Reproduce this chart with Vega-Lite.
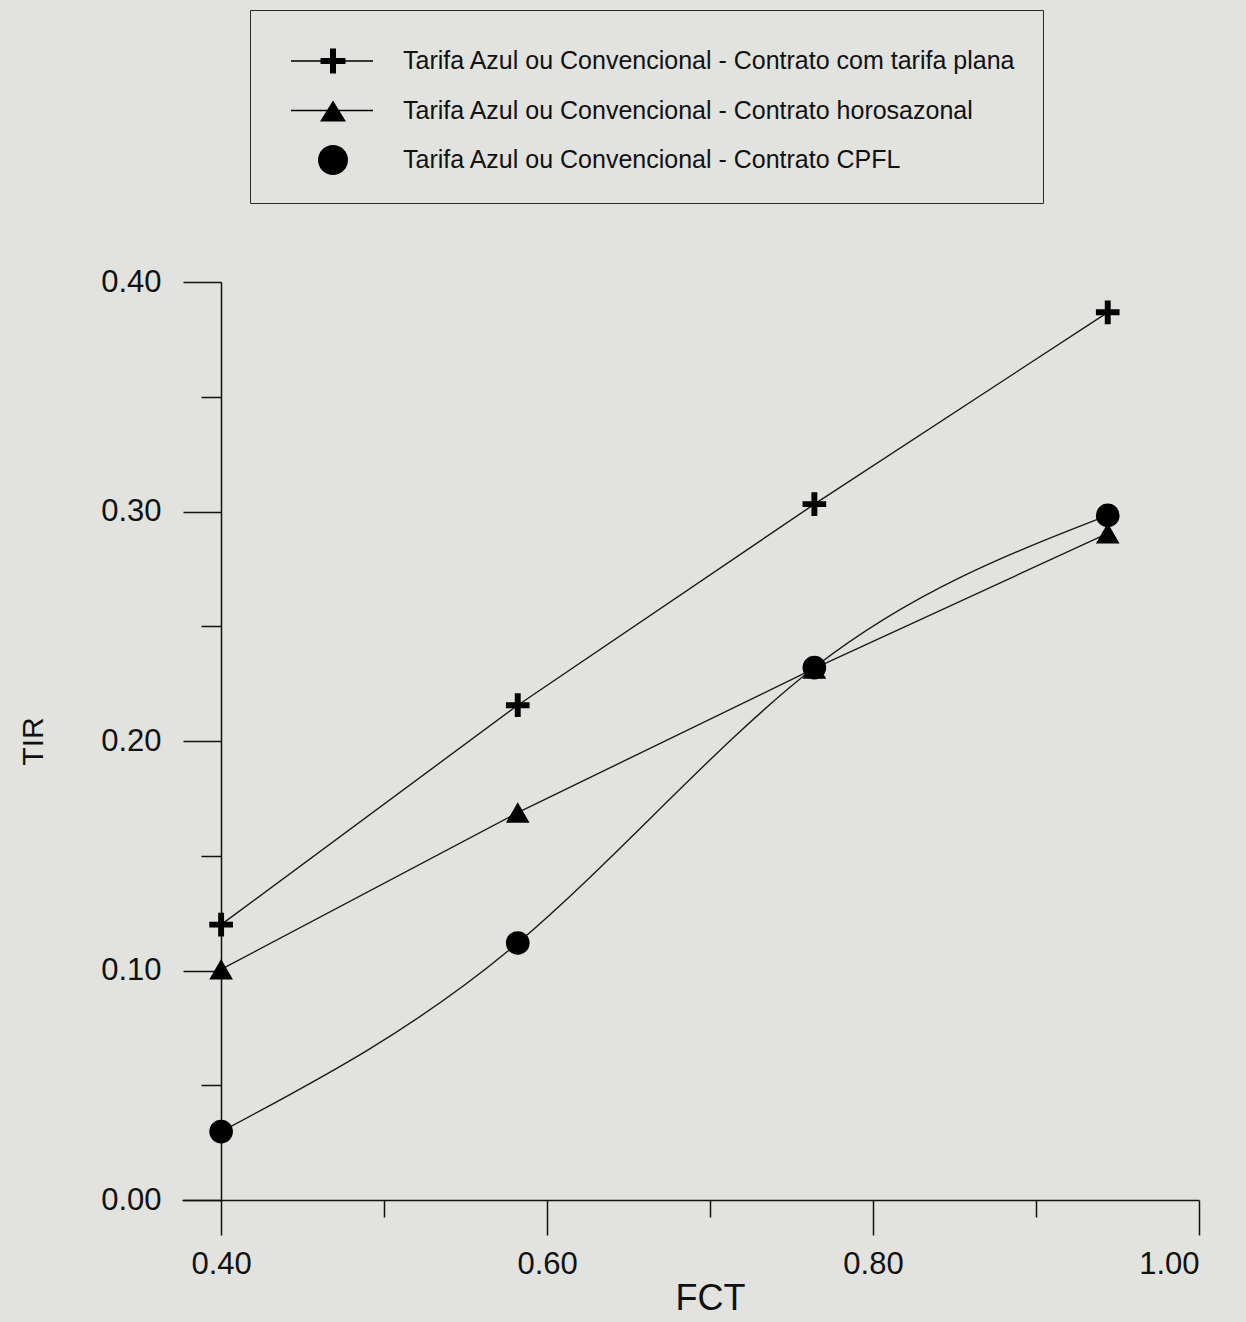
{
  "$schema": "https://vega.github.io/schema/vega-lite/v6.json",
  "width": 1017,
  "height": 918,
  "autosize": {"type": "none"},
  "padding": {"left": 182, "top": 282, "right": 47, "bottom": 122},
  "background": "#e2e3df",
  "config": {
    "view": {"stroke": null},
    "font": "Liberation Sans",
    "axis": {
      "grid": false,
      "domainColor": "#111111",
      "tickColor": "#111111",
      "domainWidth": 1.5,
      "tickWidth": 1.5,
      "labelColor": "#111111",
      "titleColor": "#111111",
      "labelFont": "Liberation Sans",
      "titleFont": "Liberation Sans",
      "labelFontSize": 31,
      "titleFontWeight": "normal"
    }
  },
  "data": {
    "values": [
      {"serie": "Tarifa Azul ou Convencional - Contrato com tarifa plana", "FCT": 0.40, "TIR": 0.120},
      {"serie": "Tarifa Azul ou Convencional - Contrato com tarifa plana", "FCT": 0.582, "TIR": 0.2156},
      {"serie": "Tarifa Azul ou Convencional - Contrato com tarifa plana", "FCT": 0.764, "TIR": 0.3032},
      {"serie": "Tarifa Azul ou Convencional - Contrato com tarifa plana", "FCT": 0.944, "TIR": 0.3868},
      {"serie": "Tarifa Azul ou Convencional - Contrato horosazonal", "FCT": 0.40, "TIR": 0.1005},
      {"serie": "Tarifa Azul ou Convencional - Contrato horosazonal", "FCT": 0.582, "TIR": 0.1688},
      {"serie": "Tarifa Azul ou Convencional - Contrato horosazonal", "FCT": 0.764, "TIR": 0.2316},
      {"serie": "Tarifa Azul ou Convencional - Contrato horosazonal", "FCT": 0.944, "TIR": 0.2905},
      {"serie": "Tarifa Azul ou Convencional - Contrato CPFL", "FCT": 0.40, "TIR": 0.0298},
      {"serie": "Tarifa Azul ou Convencional - Contrato CPFL", "FCT": 0.582, "TIR": 0.1120},
      {"serie": "Tarifa Azul ou Convencional - Contrato CPFL", "FCT": 0.764, "TIR": 0.2320},
      {"serie": "Tarifa Azul ou Convencional - Contrato CPFL", "FCT": 0.944, "TIR": 0.2983}
    ]
  },
  "encoding": {
    "x": {
      "field": "FCT",
      "type": "quantitative",
      "scale": {"domain": [0.376, 1.0], "nice": false, "zero": false},
      "axis": {
        "values": [0.4, 0.5, 0.6, 0.7, 0.8, 0.9, 1.0],
        "tickSize": {"condition": {"test": "round(datum.value*10)%2==1", "value": 17}, "value": 35},
        "labelExpr": "round(datum.value*10)%2==1 ? '' : format(datum.value, '.2f')",
        "labelPadding": 14,
        "title": "FCT",
        "titleFontSize": 36,
        "titlePadding": 2,
        "titleX": 528
      }
    },
    "y": {
      "field": "TIR",
      "type": "quantitative",
      "scale": {"domain": [0, 0.4], "nice": false, "zero": false},
      "axis": {
        "values": [0, 0.05, 0.1, 0.15, 0.2, 0.25, 0.3, 0.35, 0.4],
        "offset": -39,
        "tickSize": {"condition": {"test": "round(datum.value*20)%2==1", "value": 20}, "value": 38},
        "labelExpr": "round(datum.value*20)%2==1 ? '' : format(datum.value, '.2f')",
        "labelPadding": 22,
        "title": "TIR",
        "titleFontSize": 30,
        "titlePadding": 52
      }
    }
  },
  "resolve": {"scale": {"shape": "independent"}},
  "layer": [
    {
      "transform": [{"filter": "datum.serie !== 'Tarifa Azul ou Convencional - Contrato CPFL'"}],
      "mark": {"type": "line", "interpolate": "linear", "color": "#1a1a1a", "strokeWidth": 1.4},
      "encoding": {"detail": {"field": "serie"}}
    },
    {
      "transform": [{"filter": "datum.serie === 'Tarifa Azul ou Convencional - Contrato CPFL'"}],
      "mark": {"type": "line", "interpolate": "natural", "color": "#1a1a1a", "strokeWidth": 1.4},
      "encoding": {}
    },
    {
      "mark": {"type": "point", "filled": true, "size": 560, "color": "#000000", "opacity": 1, "strokeWidth": 0},
      "encoding": {
        "shape": {
          "field": "serie",
          "type": "nominal",
          "scale": {
            "domain": [
              "Tarifa Azul ou Convencional - Contrato com tarifa plana",
              "Tarifa Azul ou Convencional - Contrato horosazonal",
              "Tarifa Azul ou Convencional - Contrato CPFL"
            ],
            "range": [
              "M-1,-0.25H-0.25V-1H0.25V-0.25H1V0.25H0.25V1H-0.25V0.25H-1Z",
              "triangle-up",
              "circle"
            ]
          },
          "legend": null
        }
      }
    },
    {
      "transform": [{"filter": "false"}],
      "mark": {"type": "point", "filled": true, "size": 2304, "color": "#000000", "opacity": 1, "strokeWidth": 0},
      "encoding": {
        "shape": {
          "field": "serie",
          "type": "nominal",
          "scale": {
            "domain": [
              "Tarifa Azul ou Convencional - Contrato com tarifa plana",
              "Tarifa Azul ou Convencional - Contrato horosazonal",
              "Tarifa Azul ou Convencional - Contrato CPFL"
            ],
            "range": [
              "M-0.417,-0.031H3V0.031H-0.417Z M0.813,-0.125H1.208V-0.52H1.458V-0.125H1.853V0.125H1.458V0.52H1.208V0.125H0.813Z",
              "M-0.417,-0.031H3V0.031H-0.417Z M1.333,-0.42L1.873,0.46L0.793,0.46Z",
              "M0.708,0A0.625,0.625 0 1,0 1.958,0A0.625,0.625 0 1,0 0.708,0Z"
            ]
          },
          "legend": {
            "orient": "none",
            "legendX": 68,
            "legendY": -272,
            "title": null,
            "padding": 27,
            "strokeColor": "#2a2a2a",
            "fillColor": "#e2e3df",
            "symbolSize": 2304,
            "symbolFillColor": "#000000",
            "symbolStrokeWidth": 0,
            "symbolOpacity": 1,
            "labelOffset": 78,
            "labelFontSize": 25,
            "labelFont": "Liberation Sans",
            "labelColor": "#111111",
            "labelLimit": 900,
            "rowPadding": 12.5
          }
        }
      }
    }
  ]
}
